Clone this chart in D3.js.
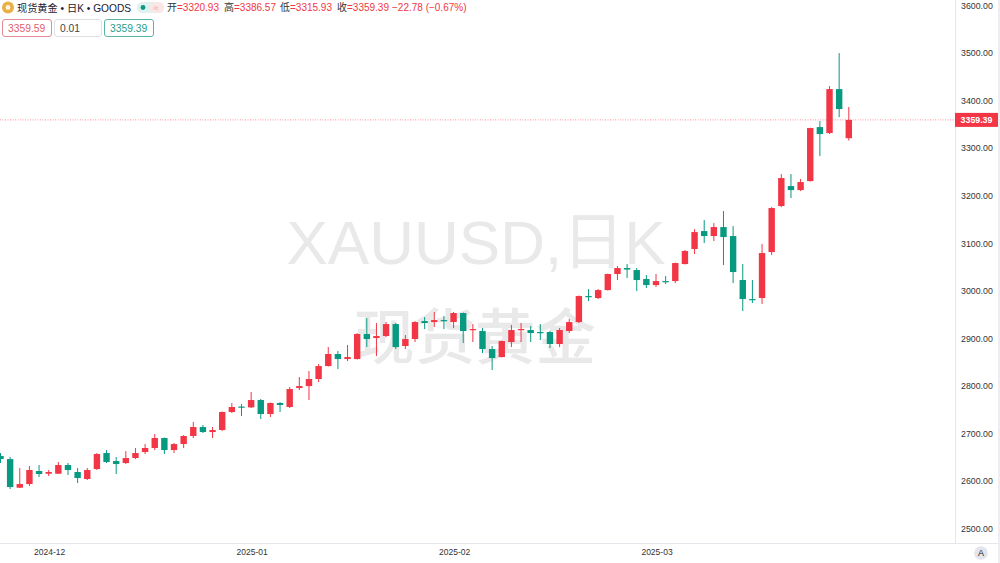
<!DOCTYPE html>
<html><head><meta charset="utf-8">
<script src="https://cdnjs.cloudflare.com/ajax/libs/d3/7.8.5/d3.min.js"></script>
<style>
html,body{margin:0;padding:0;background:#fff;overflow:hidden}
svg{display:block}
text{font-family:"Liberation Sans","Noto Sans CJK SC",sans-serif}
.yaxis text,.xaxis text{fill:#333;font-size:8.8px}
.xaxis text{font-size:8.5px}
.yaxis path,.xaxis path,.yaxis line,.xaxis line{display:none}
</style></head><body>
<svg id="c" width="1000" height="563"></svg>
<script>
const opens=[2652.4,2646,2585.8,2593.5,2620.9,2615.2,2615.2,2633.5,2618.8,2604.1,2625.1,2658.7,2641.9,2637.7,2648.2,2660.8,2669.3,2690.3,2665,2677.6,2694.5,2713.4,2702.9,2707.1,2745,2756.5,2754.8,2770.2,2740.8,2763.9,2755.5,2795.4,2799.6,2814.4,2841.7,2867,2856.4,2856.4,2909,2900.6,2904.8,2930,2883.8,2898.5,2936.3,2934.2,2938.4,2934.2,2953.2,2917.4,2915.3,2877.4,2860.6,2892.2,2917.4,2917.4,2913.2,2913.2,2888,2915.3,2934.2,2988.9,2984.7,3001.5,3035.2,3047.8,3043.6,3024.7,3012,3020.4,3020.4,3056.2,3087.8,3125.6,3115.1,3134,3115.1,3022.6,2982.6,2984.7,3081.4,3178.2,3220.2,3211.8,3230.7,3344.3,3331.7,3424.2,3320.93];
const closes=[2646.1,2587.2,2593.5,2623,2614.6,2618.8,2633.5,2623,2606.2,2623,2656.6,2639.8,2635.6,2648.2,2658.7,2669.3,2690.3,2665,2677.6,2694.5,2713.4,2702.9,2707.1,2745,2755.5,2754.4,2770.2,2740.8,2763.9,2759.7,2793.3,2799.6,2814.4,2841.7,2867,2856.4,2860.6,2909,2898.5,2904.8,2930,2881.6,2898.5,2934.2,2932.1,2938.4,2936.3,2953.2,2915.3,2919.5,2877.4,2858.5,2894.3,2917.4,2919.5,2911.1,2911.1,2888,2917.4,2934.2,2988.9,2986.8,3001.5,3035.2,3047.8,3044.6,3022.6,3012,3020.4,3018.3,3058.3,3083.6,3123.5,3115.1,3134,3113,3039.4,2982.6,2980.5,3079.3,3174,3237.1,3211.8,3228.6,3342.2,3329.6,3424.2,3382.2,3359.39];
const highs=[2658.7,2650.3,2627.2,2631.4,2633.5,2623,2639.8,2637.7,2627.2,2627.2,2658.7,2665,2650.3,2662.9,2669.3,2677.6,2698.7,2691.3,2679.7,2696.6,2723.9,2717.6,2713.4,2746,2763.9,2761.8,2787,2772.3,2765,2766,2797.5,2818.6,2831.2,2846,2881.6,2873.3,2885.9,2911,2942.6,2932.1,2934.2,2932.1,2906.9,2936.3,2944.7,2955.3,2946.9,2955.3,2954.2,2930,2921.6,2883.8,2895.3,2927.9,2932.1,2925.8,2930,2915.3,2921.6,2940.5,2990,3003.6,3003.6,3036.2,3052,3056.2,3047.8,3033.1,3035.2,3031,3059.3,3085.7,3129.8,3148.7,3142.4,3167.7,3136.1,3056.2,3022.6,3098.3,3176,3245.5,3245.5,3235,3343,3356.9,3430.5,3499.9,3386.57];
const lows=[2637.7,2583,2585,2589.3,2608.3,2610.4,2614.6,2612.5,2595.6,2602,2623,2637.7,2614.6,2635.6,2646.1,2656.6,2665,2656.6,2658.7,2669.3,2690.3,2700.8,2690.3,2705,2742.9,2736.6,2753.4,2730.3,2734.5,2745,2753.4,2791.2,2770.2,2808,2840.6,2835.4,2852.2,2855.4,2881.6,2862.7,2902.7,2877.4,2877.4,2892.2,2919.5,2923.7,2919.5,2921.6,2890,2892.2,2869,2833.3,2859.6,2881.6,2892.2,2892.2,2896.4,2879.6,2881.6,2911.1,2932.1,2978.4,2982.6,3000.5,3022.6,3026.8,2999.4,3005.7,3007.8,3014.1,3016.2,3055.2,3077.2,3100.4,3104.6,3054.1,3016.2,2957.4,2974.2,2972.1,3075.1,3176,3195,3209.7,3229.7,3283.3,3329.6,3365.4,3315.93];
const priceTicks=[2500,2600,2700,2800,2900,3000,3100,3200,3300,3400,3500,3600];
const monthLabels=["2024-12","2025-01","2025-02","2025-03"];
const monthBars=[5,26,47,68];
const lastPrice=3359.39;
const upColor="#f23645", downColor="#089981";

const svg=d3.select("#c");
const x=d3.scaleLinear().domain([0,88]).range([0.5,848.8]);
const y=d3.scaleLinear().domain([2500,3600]).range([528.5,5.5]);

// watermark
const wm=svg.append("g").attr("fill","#e9e9e9").attr("text-anchor","middle").style("font-size","62px");
wm.append("text").attr("x",476).attr("y",264).text("XAUUSD,日K");
wm.append("text").attr("x",475).attr("y",359).attr("font-weight",500).attr("style","font-family:'Noto Sans CJK SC';font-size:60.5px").text("现货黄金");

// last price line
svg.append("line").attr("x1",0).attr("x2",955).attr("y1",y(lastPrice)).attr("y2",y(lastPrice))
  .attr("stroke",upColor).attr("stroke-opacity",.75).attr("stroke-width",.7).attr("stroke-dasharray","1 1.5");

// candles
const bars=d3.range(opens.length);
const col=i=>closes[i]>=opens[i]?upColor:downColor;
const g=svg.append("g");
g.selectAll("line").data(bars).join("line")
  .attr("x1",x).attr("x2",x).attr("y1",i=>y(highs[i])).attr("y2",i=>y(lows[i]))
  .attr("stroke",col).attr("stroke-width",1);
g.selectAll("rect").data(bars).join("rect")
  .attr("x",i=>x(i)-3.2).attr("width",6.4)
  .attr("y",i=>y(Math.max(opens[i],closes[i])))
  .attr("height",i=>Math.max(1.2,Math.abs(y(opens[i])-y(closes[i]))))
  .attr("fill",col);

// axis frames
svg.append("line").attr("x1",955.5).attr("x2",955.5).attr("y1",0).attr("y2",543).attr("stroke","#e4e6ec");
svg.append("line").attr("x1",0).attr("x2",1000).attr("y1",543.5).attr("y2",543.5).attr("stroke","#e4e6ec");
svg.append("rect").attr("x",998).attr("y",0).attr("width",2).attr("height",563).attr("fill","#eeeef2");

// axes
svg.append("g").attr("class","yaxis").attr("transform","translate(955,0)")
  .call(d3.axisRight(y).tickValues(priceTicks).tickSize(0).tickPadding(6).tickFormat(d3.format(".2f")));
svg.append("g").attr("class","xaxis").attr("transform","translate(0.5,544)")
  .call(d3.axisBottom(x).tickValues(monthBars).tickSize(0).tickPadding(5).tickFormat((d,i)=>monthLabels[i]));

// last price tag
svg.append("rect").attr("x",955).attr("y",y(lastPrice)-7).attr("width",43).attr("height",14).attr("fill",upColor);
svg.append("text").attr("x",976.5).attr("y",y(lastPrice)+3.2).attr("text-anchor","middle")
  .attr("fill","#fff").attr("font-size",8.8).attr("font-weight","bold").text(d3.format(".2f")(lastPrice));

// "A" button
svg.append("circle").attr("cx",981).attr("cy",553).attr("r",6.8).attr("fill","#e3e4ec");
svg.append("text").attr("x",981).attr("y",556.4).attr("text-anchor","middle").attr("font-size",9).attr("fill","#222").text("A");

// header
svg.append("circle").attr("cx",8).attr("cy",7.5).attr("r",6).attr("fill","#e9b044");
svg.append("circle").attr("cx",8).attr("cy",7.5).attr("r",2.4).attr("fill","#fff").attr("fill-opacity",.85);
svg.append("text").attr("x",17).attr("y",11.5).attr("font-size",10.2).attr("fill","#1c2030").text("现货黄金 • 日K • GOODS");
svg.append("rect").attr("x",137).attr("y",2).attr("width",27).attr("height",11).attr("rx",5.5).attr("fill","#dff2ef");
svg.append("rect").attr("x",150).attr("y",2).attr("width",14).attr("height",11).attr("rx",5.5).attr("fill","#fbe6e6");
svg.append("circle").attr("cx",143).attr("cy",7.5).attr("r",2.4).attr("fill",downColor);
svg.append("text").attr("x",156).attr("y",11).attr("text-anchor","middle").attr("font-size",9).attr("fill","#e9a0a0").text("≈");

const legendLabels=["开=","高=","低=","收="];
const legendValues=[3320.93,3386.57,3315.93,3359.39];
const legendX=[167,224,280,337];
legendLabels.forEach((l,i)=>{
  const t=svg.append("text").attr("x",legendX[i]).attr("y",11).attr("font-size",10).attr("fill","#333");
  t.append("tspan").text(l.slice(0,1));
  t.append("tspan").attr("fill",upColor).text("="+legendValues[i].toFixed(2));
});
svg.append("text").attr("x",392).attr("y",11).attr("font-size",10).attr("fill",upColor).text("−22.78 (−0.67%)");

const boxes=[[2,49,"#e58a94","#e0606e","3359.59"],[54,47,"#dfe1e6","#444","0.01"],[104,49,"#5bb3a6","#2a9d8c","3359.39"]];
boxes.forEach(b=>{
  svg.append("rect").attr("x",b[0]+.5).attr("y",19.5).attr("width",b[1]).attr("height",17).attr("rx",2.5).attr("fill","#fff").attr("stroke",b[2]);
  svg.append("text").attr("x",b[0]+6).attr("y",31.5).attr("font-size",10.3).attr("fill",b[3]).text(b[4]);
});
</script>
</body></html>
